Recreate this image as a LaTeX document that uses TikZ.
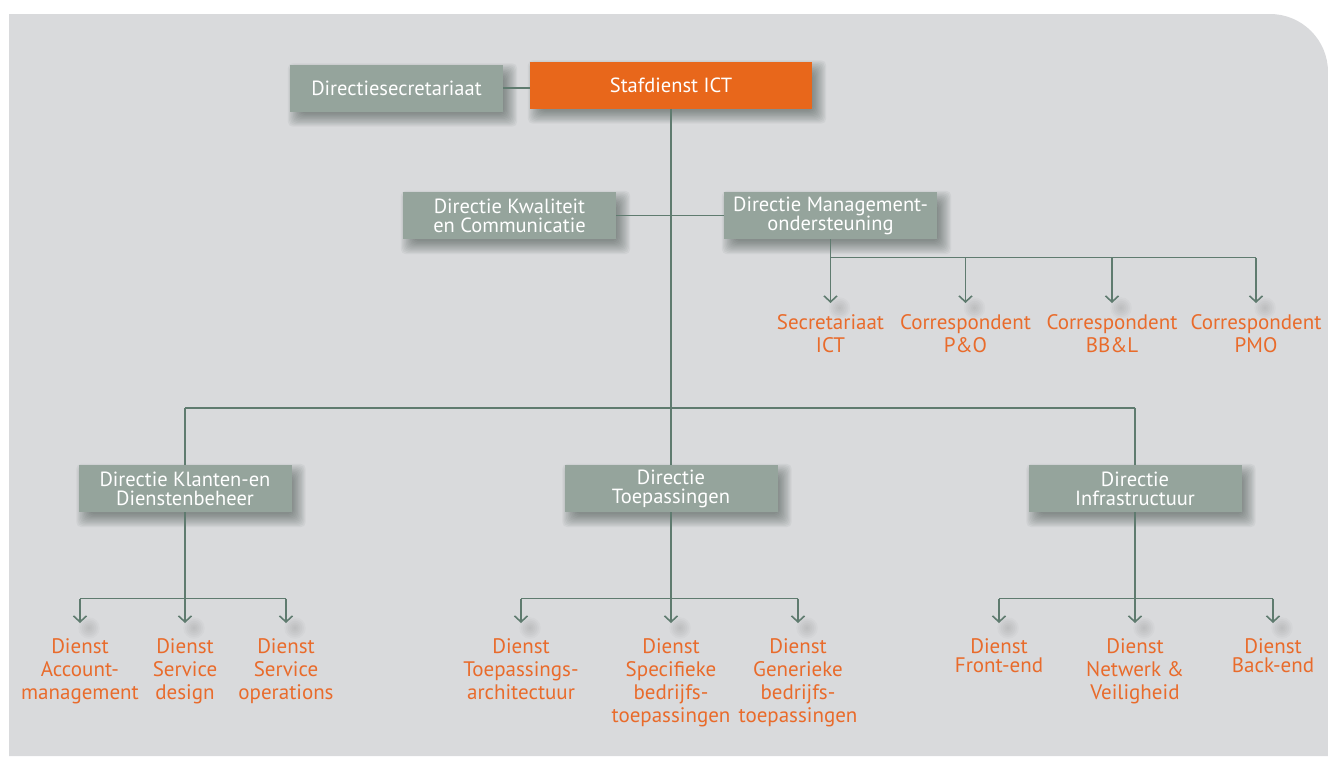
\documentclass[tikz,border=0pt]{standalone}
\usepackage{fontspec}
\setmainfont{PT Sans}
\usetikzlibrary{arrows.meta}
\definecolor{bg}{HTML}{D9DADC}
\definecolor{boxc}{HTML}{95A49C}
\definecolor{orng}{HTML}{E8671B}
\definecolor{otxt}{HTML}{E96B2B}
\definecolor{lnc}{HTML}{5F7B6F}
\definecolor{shd}{HTML}{26352E}
\pgfdeclarelayer{bgl}
\pgfdeclarelayer{shadowl}
\pgfsetlayers{bgl,shadowl,main}
\newcommand{\boxshadow}[1]{%
  \begin{pgfonlayer}{shadowl}
  \foreach \k in {0,...,10}{%
    \fill[shd,opacity=0.05,rounded corners=5pt]
      ([xshift={6pt-(\k*1.3pt-5pt)}, yshift={-7pt+(\k*1.3pt-5pt)}]#1.north west)
      rectangle
      ([xshift={6pt+(\k*1.3pt-5pt)}, yshift={-7pt-(\k*1.3pt-5pt)}]#1.south east);
  }
  \end{pgfonlayer}}
\newcommand{\tipshadow}[2]{%
  \begin{pgfonlayer}{shadowl}
  \foreach \k in {1,...,6}{%
    \fill[black,opacity=0.018] ([xshift=9pt,yshift={#2pt-5pt}]#1.north) circle[radius=\k*1.8pt];
  }
  \end{pgfonlayer}}
\begin{document}
\begin{tikzpicture}[x=1pt,y=-1pt,
 box/.style={fill=boxc, text=white, minimum width=213pt, minimum height=47pt, inner sep=0pt, align=center,
   font=\fontsize{20.5}{19}\selectfont},
 topbox/.style={box, fill=orng, minimum width=282pt},
 lbl/.style={text=otxt, align=center, inner sep=0pt, anchor=north, font=\fontsize{21}{23}\selectfont},
 tight/.style={font=\fontsize{21}{19.5}\selectfont},
 ln/.style={draw=lnc, line width=1.6pt},
 arr/.style={ln, -{Straight Barb[length=6pt,width=13pt]}}
]
\useasboundingbox (0,0) rectangle (1328,756);
\begin{pgfonlayer}{bgl}
\fill[white] (0,0) rectangle (1328,756);
\fill[bg] (9,14) [rounded corners=58pt] -- (1328,14) [sharp corners] -- (1328,756) -- (9,756) -- cycle;
\end{pgfonlayer}

\coordinate (y1) at (0,257.5);
\coordinate (y2) at (0,408);
\coordinate (y3) at (0,598.5);

% boxes
\node[box] (sec) at (396.5,88) {Directiesecretariaat};
\node[topbox] (ict) at (671,85) {Stafdienst ICT};
\node[box] (kwal) at (509.5,215.5) {Directie Kwaliteit\\en Communicatie};
\node[box] (mgmt) at (830.5,215.5) {Directie Management-\\ondersteuning};
\node[box] (klant) at (185,488.5) {Directie Klanten-en\\Dienstenbeheer};
\node[box] (toep) at (671,488.5) {Directie\\Toepassingen};
\node[box] (infra) at (1135,488.5) {Directie\\Infrastructuur};
\foreach \b in {sec,ict,kwal,mgmt,klant,toep,infra}{\boxshadow{\b}}

% labels
\node[lbl] (sict) at (830.5,314) {Secretariaat\\ICT};
\node[lbl] (cpo) at (965.5,314) {Correspondent\\P\&O};
\node[lbl] (cbb) at (1112,314) {Correspondent\\BB\&L};
\node[lbl] (cpmo) at (1256,314) {Correspondent\\PMO};

\node[lbl] (dacc) at (80,638) {Dienst\\Account-\\management};
\node[lbl] (dsd) at (185,638) {Dienst\\Service\\design};
\node[lbl] (dso) at (286,638) {Dienst\\Service\\operations};
\node[lbl] (dta) at (521,638) {Dienst\\Toepassings-\\architectuur};
\node[lbl] (dsb) at (671,638) {Dienst\\Specifieke\\bedrijfs-\\toepassingen};
\node[lbl] (dgb) at (798,638) {Dienst\\Generieke\\bedrijfs-\\toepassingen};
\node[lbl,tight] (dfe) at (999,638) {Dienst\\Front-end};
\node[lbl] (dnv) at (1135,638) {Dienst\\Netwerk \&\\Veiligheid};
\node[lbl,tight] (dbe) at (1273,638) {Dienst\\Back-end};

% connectors top
\draw[ln] (sec.east) -- (sec.east -| ict.west);
\draw[ln] (ict.south) -- (toep.north);
\draw[ln] (kwal.east) -- (mgmt.west);
\draw[ln] (mgmt.south) -- (mgmt.south |- y1);
\draw[ln] (sict.north |- y1) -- (cpmo.north |- y1);
\foreach \n in {sict,cpo,cbb,cpmo}{
  \draw[arr] (\n.north |- y1) -- ([yshift=11pt]\n.north);
  \tipshadow{\n}{11}
}

% main bar
\draw[ln, line width=2pt] (klant.north |- y2) -- (infra.north |- y2);
\draw[ln] (klant.north |- y2) -- (klant.north);
\draw[ln] (infra.north |- y2) -- (infra.north);

% bottom groups
\draw[ln] (klant.south) -- (klant.south |- y3);
\draw[ln] (dacc.north |- y3) -- (dso.north |- y3);
\draw[ln] (toep.south) -- (toep.south |- y3);
\draw[ln] (dta.north |- y3) -- (dgb.north |- y3);
\draw[ln] (infra.south) -- (infra.south |- y3);
\draw[ln] (dfe.north |- y3) -- (dbe.north |- y3);
\foreach \n in {dacc,dsd,dso,dta,dsb,dgb,dfe,dnv,dbe}{
  \draw[arr] (\n.north |- y3) -- ([yshift=15pt]\n.north);
  \tipshadow{\n}{15}
}
\end{tikzpicture}
\end{document}
